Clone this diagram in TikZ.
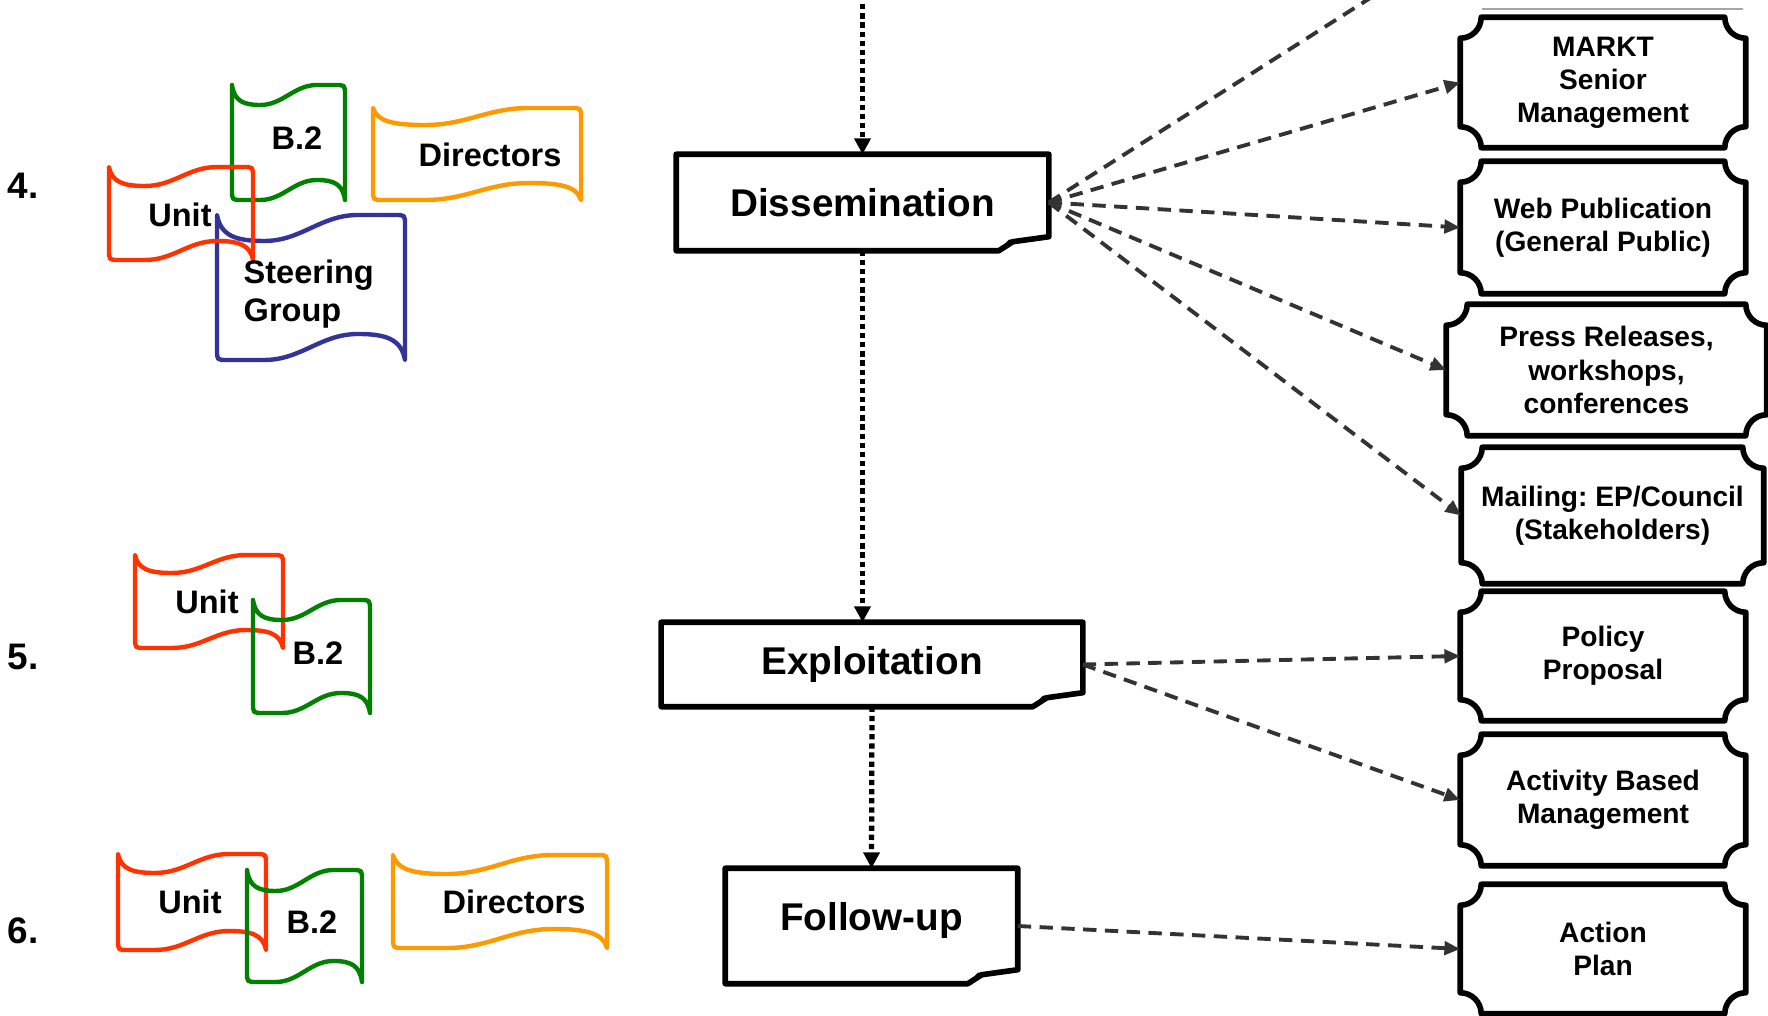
\documentclass[tikz,border=0pt]{standalone}
\usepackage{fontspec}
\setmainfont{Liberation Sans}
\usetikzlibrary{calc,arrows.meta}
\frenchspacing

\definecolor{flagred}{RGB}{255,51,0}
\definecolor{flaggreen}{RGB}{0,130,0}
\definecolor{flagorange}{RGB}{255,153,0}
\definecolor{flagblue}{RGB}{51,51,153}

% wavy flag: style, left, top, right, bottom, wave depth (all in px units)
\newcommand\waveflag[6]{%
  \pgfmathsetmacro\flagw{#4-#2}%
  \draw[flag,#1]
   (#2,#3) .. controls ({#2+0.02*\flagw},{#3+0.8*#6}) and ({#2+0.1*\flagw},{#3+#6}) .. ({#2+0.25*\flagw},{#3+#6})
   .. controls ({#2+0.45*\flagw},{#3+#6}) and ({#2+0.55*\flagw},#3) .. ({#2+0.75*\flagw},#3)
   -- ({#4-10},#3) .. controls (#4,#3) .. (#4,{#3+10})
   -- (#4,#5) .. controls ({#4-0.02*\flagw},{#5-0.8*#6}) and ({#4-0.1*\flagw},{#5-#6}) .. ({#4-0.25*\flagw},{#5-#6})
   .. controls ({#4-0.45*\flagw},{#5-#6}) and ({#4-0.55*\flagw},#5) .. ({#4-0.75*\flagw},#5)
   -- ({#2+10},#5) .. controls (#2,#5) .. (#2,{#5-10})
   -- cycle;}

% rectangle with a turned-up lower right corner, around a node
\newcommand\foldframe[1]{%
  \draw[frame] ($(#1.south east)+(-50,0)$) -- (#1.south west) -- (#1.north west)
    -- (#1.north east) -- ($(#1.south east)+(0,-14)$) -- ($(#1.south east)+(-36,-9)$) -- cycle;
  \fill ($(#1.south east)+(-50,0)$) -- ($(#1.south east)+(-40,-11)$)
    -- ($(#1.south east)+(0,-14)$) -- ($(#1.south east)+(-36,-7)$) -- cycle;}

% plaque: rectangle with concave quarter-circle corners, around a node
\newcommand\plaqueframe[1]{%
  \draw[frame] ($(#1.north west)+(21,0)$) -- ($(#1.north east)+(-21,0)$)
    .. controls +(0,11.6) and +(-11.6,0) .. ($(#1.north east)+(0,21)$)
    -- ($(#1.south east)+(0,-21)$)
    .. controls +(-11.6,0) and +(0,-11.6) .. ($(#1.south east)+(-21,0)$)
    -- ($(#1.south west)+(21,0)$)
    .. controls +(0,-11.6) and +(11.6,0) .. ($(#1.south west)+(0,-21)$)
    -- ($(#1.north west)+(0,21)$)
    .. controls +(11.6,0) and +(0,11.6) .. ($(#1.north west)+(21,0)$) -- cycle;}

\begin{document}
\begin{tikzpicture}[x=0.01cm,y=-0.01cm,
  frame/.style={line width=1.6pt, line join=round},
  flag/.style={line width=1.25pt, line join=round, line cap=round},
  stage/.style={inner sep=0pt, font=\fontsize{11}{13}\bfseries\selectfont},
  target/.style={inner sep=0pt, align=center, font=\fontsize{8}{9.4}\bfseries\selectfont},
  flagtext/.style={inner sep=0pt, align=left, font=\fontsize{9.25}{10.8}\bfseries\selectfont},
  steplabel/.style={inner sep=0pt, anchor=west, font=\fontsize{10.5}{12}\bfseries\selectfont},
  flow/.style={line width=1.5pt, dash pattern=on 1.5pt off 1.1pt, -{Triangle[length=4.5pt,width=4.5pt]}},
  feed/.style={draw=black!80, line width=1.1pt, dash pattern=on 3.8pt off 2.4pt, -{Triangle[length=4.5pt,width=3.8pt]}}]

\fill[white] (0,0) rectangle (1768,1016);
\useasboundingbox (0,0) rectangle (1768,1016);

% step numbers
\node[steplabel] (n4) at (7,186) {4.};
\node[steplabel] (n5) at (7,657) {5.};
\node[steplabel] (n6) at (7,931) {6.};

% step 4 actors
\waveflag{flaggreen}{232}{85}{345}{200}{20}
\waveflag{flagorange}{373}{108}{581}{200}{17}
\waveflag{flagblue}{217}{215}{405}{360}{26}
\waveflag{flagred}{109}{167}{253}{260}{19}
\node[flagtext] (b4) at (297,138) {B.2};
\node[flagtext] (d4) at (490,155) {Directors};
\node[flagtext] (u4) at (180,215) {Unit};
\node[flagtext, anchor=west] (s4) at (243,294) {Steering\\Group};

% step 5 actors
\waveflag{flagred}{135}{555}{283}{648}{18}
\waveflag{flaggreen}{253}{600}{370}{713}{20}
\node[flagtext] (u5) at (207,602) {Unit};
\node[flagtext] (b5) at (318,653) {B.2};

% step 6 actors
\waveflag{flagred}{118}{854}{266}{950}{19}
\waveflag{flaggreen}{247}{870}{362}{982}{21}
\waveflag{flagorange}{393}{855}{607}{948}{19}
\node[flagtext] (u6) at (190,902) {Unit};
\node[flagtext] (b6) at (312,922) {B.2};
\node[flagtext] (d6) at (514,902) {Directors};

% process stages
\node[stage, minimum width=3.71cm, minimum height=0.95cm] (diss) at (862.5,202.5) {Dissemination};
\node[stage, minimum width=4.20cm, minimum height=0.83cm] (expl) at (872,664.5) {Exploitation};
\node[stage, minimum width=2.91cm, minimum height=1.14cm] (foll) at (871.5,926) {\raisebox{0.2cm}{Follow-up}};
\foldframe{diss}
\foldframe{expl}
\foldframe{foll}

% audiences and outputs
\draw[black!35, line width=0.5pt] (1482,9) -- (1743,9);
\node[target, minimum width=2.84cm, minimum height=1.29cm] (markt) at (1603,82.5) {MARKT\\Senior\\Management};
\node[target, minimum width=2.84cm, minimum height=1.31cm] (web) at (1603,227.5) {Web Publication\\(General Public)};
\node[target, minimum width=3.19cm, minimum height=1.30cm] (press) at (1606.5,370) {Press Releases,\\workshops,\\conferences};
\node[target, minimum width=3.01cm, minimum height=1.35cm] (mail) at (1612.5,515.5) {Mailing: EP/Council\\(Stakeholders)};
\node[target, minimum width=2.84cm, minimum height=1.28cm] (policy) at (1603,656) {Policy\\Proposal};
\node[target, minimum width=2.84cm, minimum height=1.30cm] (abm) at (1603,800) {Activity Based\\Management};
\node[target, minimum width=2.84cm, minimum height=1.28cm] (action) at (1603,949) {Action\\Plan};
\foreach \b in {markt,web,press,mail,policy,abm,action} {\plaqueframe{\b}}

% main flow
\coordinate (topin) at (862.5,-5);
\draw[flow] (topin) -- (diss.north);
\draw[flow] (diss.south) -- (diss.south |- expl.north);
\draw[flow] (expl.south) -- (foll.north);

% dissemination channels
\coordinate (offtop) at (1375,-5);
\draw[feed, -] (diss.east) -- (offtop);
\draw[feed] (diss.east) -- (markt.west);
\draw[feed] (diss.east) -- (web.west);
\draw[feed] (diss.east) -- (press.west);
\draw[feed] (diss.east) -- (mail.west);
\draw[feed] (expl.east) -- (policy.west);
\draw[feed] (expl.east) -- (abm.west);
\draw[feed] (foll.east) -- (action.west);

\end{tikzpicture}
\end{document}
